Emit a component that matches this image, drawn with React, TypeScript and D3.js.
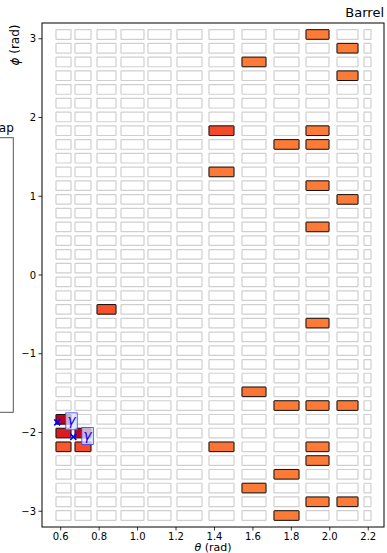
import React from "react";
import * as d3 from "d3";

// Column (theta) bin edges of the barrel cells, in rad
const thetaLo = [0.5755, 0.6744, 0.7889, 0.9137, 1.0542, 1.205, 1.3715, 1.5432, 1.7097, 1.8762, 2.0375, 2.178];
const thetaHi = [0.6536, 0.7577, 0.8877, 1.0334, 1.1738, 1.3351, 1.5016, 1.6681, 1.8398, 1.9959, 2.1468, 2.2144];
const nPhi = 36;

// Hit cells: column index, phi-bin index counted from the top, energy
const hitCol = [9, 10, 7, 10, 6, 9, 8, 9, 6, 9, 10, 9, 2, 9, 7, 8, 9, 10, 0, 0, 1, 0, 1, 6, 9, 9, 8, 7, 9, 10, 8];
const hitRowFromTop = [0, 1, 2, 3, 7, 7, 8, 8, 10, 11, 12, 14, 20, 21, 26, 27, 27, 27, 28, 29, 29, 30, 30, 30, 30, 31, 32, 33, 34, 34, 35];
const hitE = [1.7, 1.7, 1.7, 1.7, 2.05, 1.7, 1.7, 1.7, 1.72, 1.7, 1.7, 1.7, 2.0, 1.7, 1.75, 1.7, 1.7, 1.7, 2.8, 2.45, 2.8, 1.95, 2.05, 1.75, 1.7, 1.7, 1.7, 1.7, 1.7, 1.7, 1.7];

// Photon candidates
const photonTheta = [0.582, 0.6656];
const photonPhi = [-1.871, -2.056];
const photonLabel = ["γ", "γ"];

const xTicks = [0.6, 0.8, 1.0, 1.2, 1.4, 1.6, 1.8, 2.0, 2.2];
const yTicks = [-3, -2, -1, 0, 1, 2, 3];

const W = 387;
const H = 553;
const L = 42, R = 384, T = 23, B = 527;
const FONT = "DejaVu Sans, sans-serif";

export default function App() {
  const x = d3.scaleLinear().domain([0.5027, 2.282]).range([L, R]);
  const y = d3.scaleLinear().domain([-3.2, 3.2]).range([B, T]);
  const color = d3.scaleSequential(d3.interpolateYlOrRd).domain([0, 3.2]);
  const binW = (2 * Math.PI) / nPhi;
  const cellH = 0.7 * binW;
  const phiCenterTop = (k: number) => Math.PI - (k + 0.5) * binW;
  const fmt = (v: number) => d3.format(".1f")(v);
  const fmtY = (v: number) => (v < 0 ? "\u2212" + Math.abs(v) : String(v));

  const rows = d3.range(nPhi);
  const cols = d3.range(thetaLo.length);

  return (
    <svg width={W} height={H} style={{ position: "absolute", left: 0, top: 0, background: "#fff" }} fontFamily={FONT}>
      {/* neighbouring Endcap panel, clipped at the left edge */}
      <text x={13.8} y={132} fontSize={12} textAnchor="end" fill="#000">ap</text>
      <rect x={-20} y={137.7} width={33.3} height={274.6} fill="none" stroke="#555" strokeWidth={1} />

      {/* empty cells */}
      {cols.map((c) =>
        rows.map((k) => {
          const yc = y(phiCenterTop(k));
          const h = y(0) - y(cellH);
          return (
            <rect key={`e${c}-${k}`} x={x(thetaLo[c])} width={x(thetaHi[c]) - x(thetaLo[c])} y={yc - h / 2} height={h}
              fill="#fff" stroke="#cfcfcf" strokeWidth={1.2} rx={0.4} />
          );
        })
      )}

      {/* hit cells */}
      {hitCol.map((c, i) => {
        const yc = y(phiCenterTop(hitRowFromTop[i]));
        const h = y(0) - y(cellH);
        return (
          <rect key={`h${i}`} x={x(thetaLo[c])} width={x(thetaHi[c]) - x(thetaLo[c])} y={yc - h / 2} height={h}
            fill={color(hitE[i])} stroke="#111" strokeWidth={1} rx={0.4} />
        );
      })}

      {/* photons */}
      {photonTheta.map((t, i) => {
        const px = x(t), py = y(photonPhi[i]);
        const s = 3;
        return (
          <g key={`p${i}`}>
            <path d={`M${px - s},${py - s}L${px + s},${py + s}M${px - s},${py + s}L${px + s},${py - s}`} stroke="#0000ff" strokeWidth={1.6} />
            <rect x={px + 8.5} y={py - 9.5} width={11.5} height={17} fill="#e2e4ff" fillOpacity={0.75} stroke="#3344ff" strokeWidth={0.8} />
            <text x={px + 14.2} y={py + 3} fontSize={14} fontStyle="italic" textAnchor="middle" fill="#0000ff">{photonLabel[i]}</text>
          </g>
        );
      })}

      {/* spines */}
      <rect x={L} y={T} width={R - L} height={B - T} fill="none" stroke="#000" strokeWidth={1} />

      {/* x axis */}
      {xTicks.map((t) => (
        <g key={`xt${t}`}>
          <line x1={x(t)} x2={x(t)} y1={B} y2={B + 3.5} stroke="#000" strokeWidth={0.8} />
          <text x={x(t)} y={B + 12.5} fontSize={10} textAnchor="middle" fill="#000">{fmt(t)}</text>
        </g>
      ))}
      <text x={(L + R) / 2} y={550.5} fontSize={11} textAnchor="middle" fill="#000">
        <tspan fontStyle="italic">θ</tspan> (rad)
      </text>

      {/* y axis */}
      {yTicks.map((t) => (
        <g key={`yt${t}`}>
          <line x1={L - 3.5} x2={L} y1={y(t)} y2={y(t)} stroke="#000" strokeWidth={0.8} />
          <text x={L - 6} y={y(t) + 3.5} fontSize={10} textAnchor="end" fill="#000">{fmtY(t)}</text>
        </g>
      ))}
      <text transform={`translate(19,45) rotate(-90)`} fontSize={12} textAnchor="middle" fill="#000">
        <tspan fontStyle="italic">ϕ</tspan> (rad)
      </text>

      {/* title */}
      <text x={R} y={17} fontSize={13} textAnchor="end" fill="#000">Barrel</text>
    </svg>
  );
}
